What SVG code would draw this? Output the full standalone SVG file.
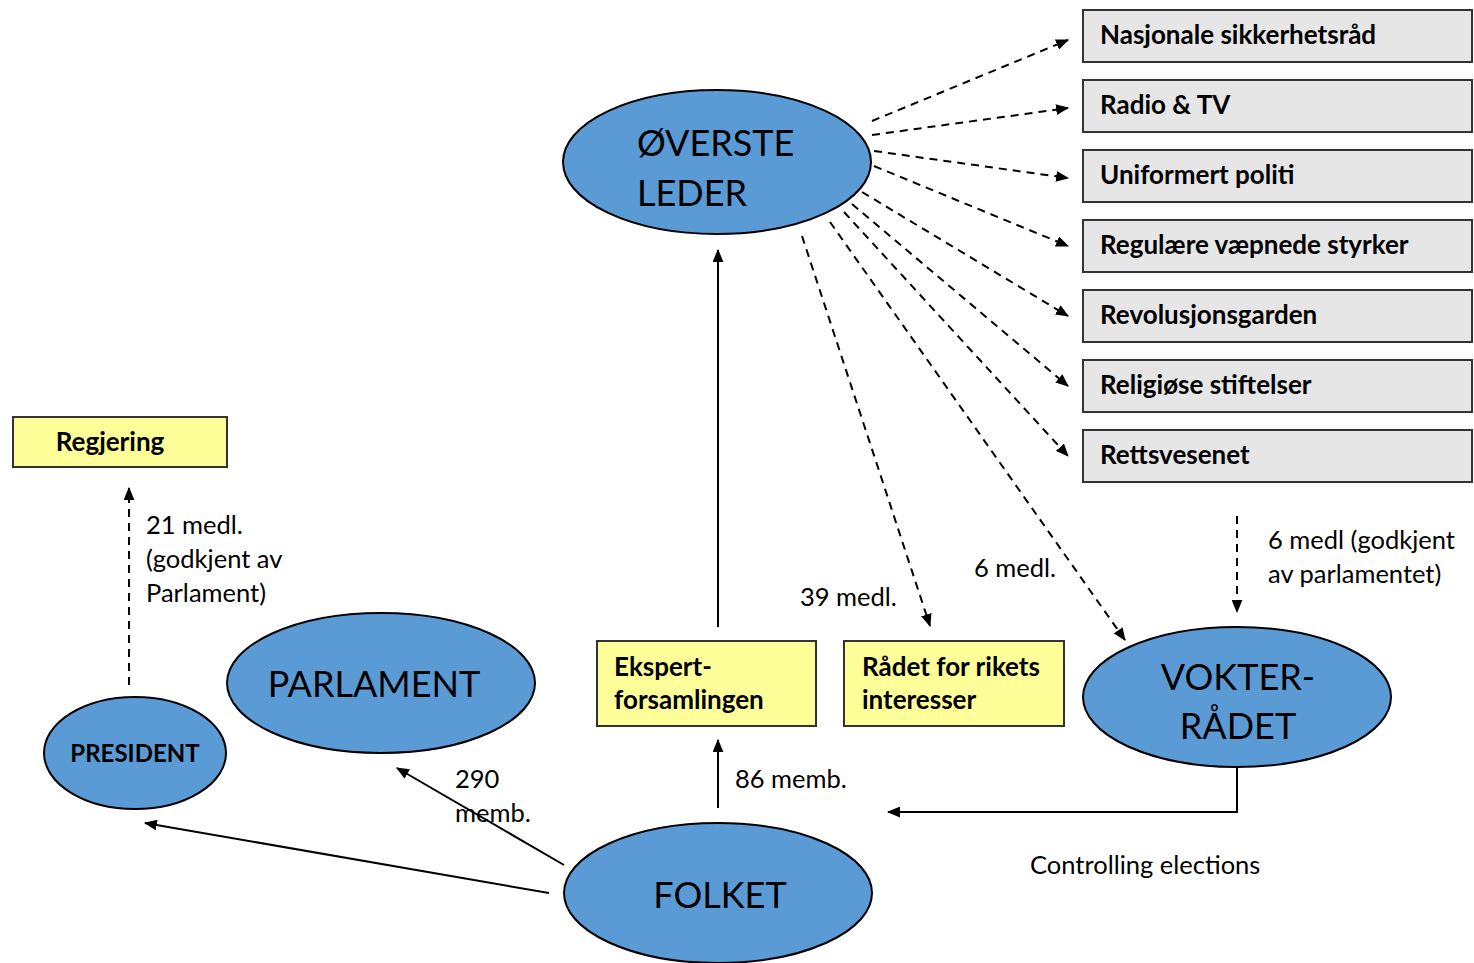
<svg xmlns="http://www.w3.org/2000/svg" width="1474" height="963" viewBox="0 0 1474 963">
<defs>
<marker id="ah" viewBox="0 0 12 10" refX="11" refY="5" markerWidth="13" markerHeight="11" markerUnits="userSpaceOnUse" orient="auto">
<path d="M0,0 L12,5 L0,10 z" fill="#000"/>
</marker>
</defs>
<style>
.ell{fill:#5b9bd5;stroke:#000;stroke-width:2}
.gray{fill:#e6e6e6;stroke:#333;stroke-width:2}
.yel{fill:#ffff99;stroke:#333;stroke-width:2}
.bt{font-family:Lato,"Open Sans",sans-serif;font-weight:bold;font-size:26px;fill:#000}
.big{font-family:Lato,"Open Sans",sans-serif;font-size:36px;fill:#000}
.lbl{font-family:Lato,"Open Sans",sans-serif;font-size:25.5px;fill:#000}
.dash{fill:none;stroke:#000;stroke-width:2;stroke-dasharray:8,6;marker-end:url(#ah)}
.solid{fill:none;stroke:#000;stroke-width:2;marker-end:url(#ah)}
</style>
<rect width="1474" height="963" fill="#fff"/>
<g id="connectors">
<line class="dash" x1="872" y1="121" x2="1068" y2="40"/>
<line class="dash" x1="872" y1="135" x2="1068" y2="108"/>
<line class="dash" x1="874" y1="151" x2="1068" y2="178"/>
<line class="dash" x1="874" y1="166" x2="1068" y2="246"/>
<line class="dash" x1="862" y1="192" x2="1068" y2="316"/>
<line class="dash" x1="852" y1="204" x2="1068" y2="386"/>
<line class="dash" x1="844" y1="212" x2="1068" y2="456"/>
<line class="dash" x1="830" y1="222" x2="1125" y2="640"/>
<line class="dash" x1="802" y1="236" x2="930" y2="626"/>
<line class="dash" x1="129" y1="685" x2="129" y2="488"/>
<line class="dash" x1="1237" y1="516" x2="1237" y2="612"/>
<line class="solid" x1="718" y1="627" x2="718" y2="250"/>
<line class="solid" x1="718" y1="808" x2="718" y2="740"/>
<line class="solid" x1="564" y1="865" x2="397" y2="768"/>
<line class="solid" x1="549" y1="893" x2="145" y2="823"/>
<path class="solid" d="M1237,768 L1237,812 L888,812"/>
</g>
<g id="labels">
<text class="lbl" x="146" y="534">21 medl.</text>
<text class="lbl" x="146" y="568">(godkjent av</text>
<text class="lbl" x="146" y="602">Parlament)</text>
<text class="lbl" x="455" y="788">290</text>
<text class="lbl" x="455" y="822">memb.</text>
<text class="lbl" x="735" y="788">86 memb.</text>
<text class="lbl" x="800" y="606">39 medl.</text>
<text class="lbl" x="974" y="577">6 medl.</text>
<text class="lbl" x="1268" y="549">6 medl (godkjent</text>
<text class="lbl" x="1268" y="583">av parlamentet)</text>
<text class="lbl" x="1030" y="874">Controlling elections</text>
</g>
<g id="overste-leder">
<ellipse class="ell" cx="717" cy="162" rx="154" ry="72"/>
<text class="big" x="637" y="156">ØVERSTE</text>
<text class="big" x="637" y="206">LEDER</text>
</g>
<g id="nasjonale">
<rect class="gray" x="1083" y="10" width="389" height="52"/>
<text class="bt" x="1100" y="44">Nasjonale sikkerhetsråd</text>
</g>
<g id="radio-tv">
<rect class="gray" x="1083" y="80" width="389" height="52"/>
<text class="bt" x="1100" y="114">Radio &amp; TV</text>
</g>
<g id="politi">
<rect class="gray" x="1083" y="150" width="389" height="52"/>
<text class="bt" x="1100" y="184">Uniformert politi</text>
</g>
<g id="styrker">
<rect class="gray" x="1083" y="220" width="389" height="52"/>
<text class="bt" x="1100" y="254">Regulære væpnede styrker</text>
</g>
<g id="revolusjonsgarden">
<rect class="gray" x="1083" y="290" width="389" height="52"/>
<text class="bt" x="1100" y="324">Revolusjonsgarden</text>
</g>
<g id="religiose">
<rect class="gray" x="1083" y="360" width="389" height="52"/>
<text class="bt" x="1100" y="394">Religiøse stiftelser</text>
</g>
<g id="rettsvesenet">
<rect class="gray" x="1083" y="430" width="389" height="52"/>
<text class="bt" x="1100" y="464">Rettsvesenet</text>
</g>
<g id="regjering">
<rect class="yel" x="13" y="417" width="214" height="50"/>
<text class="bt" x="110" y="451" text-anchor="middle">Regjering</text>
</g>
<g id="president">
<ellipse class="ell" cx="135" cy="753" rx="91" ry="56"/>
<text class="bt" x="135" y="762" text-anchor="middle" style="font-size:24px">PRESIDENT</text>
</g>
<g id="parlament">
<ellipse class="ell" cx="381" cy="683" rx="154" ry="70"/>
<text class="big" x="374" y="697" text-anchor="middle">PARLAMENT</text>
</g>
<g id="ekspert">
<rect class="yel" x="597" y="641" width="219" height="85"/>
<text class="bt" x="614" y="676">Ekspert-</text>
<text class="bt" x="614" y="709">forsamlingen</text>
</g>
<g id="radet">
<rect class="yel" x="844" y="641" width="220" height="85"/>
<text class="bt" x="862" y="676">Rådet for rikets</text>
<text class="bt" x="862" y="709">interesser</text>
</g>
<g id="vokterradet">
<ellipse class="ell" cx="1237" cy="697" rx="154" ry="70"/>
<text class="big" x="1238" y="690" text-anchor="middle">VOKTER-</text>
<text class="big" x="1238" y="739" text-anchor="middle">RÅDET</text>
</g>
<g id="folket">
<ellipse class="ell" cx="718" cy="893" rx="154" ry="70"/>
<text class="big" x="720" y="908" text-anchor="middle">FOLKET</text>
</g>
</svg>
